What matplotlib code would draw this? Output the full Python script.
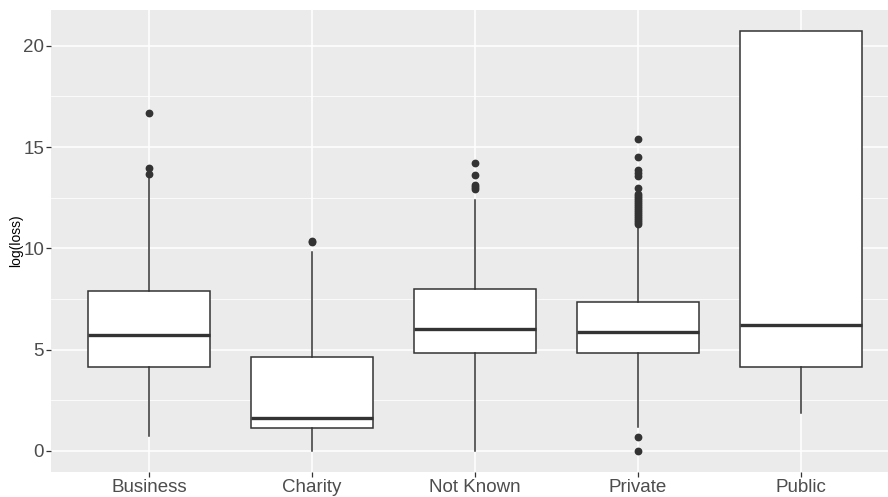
#boxplot of log(loss) per organisation type, drawn from summary statistics
import matplotlib.pyplot as plt
from matplotlib.ticker import MultipleLocator

plt.rcParams['font.family'] = ['Liberation Sans', 'DejaVu Sans']

#summary stats read per category
categories = ['Business', 'Charity', 'Not Known', 'Private', 'Public']
q1 = [4.13, 1.13, 4.82, 4.82, 4.13]
medians = [5.72, 1.62, 6.04, 5.86, 6.23]
q3 = [7.91, 4.62, 8.01, 7.37, 20.74]
whislo = [0.74, 0.02, 0.02, 1.18, 1.87]
whishi = [13.62, 9.80, 12.38, 11.15, 20.74]
fliers = [
    [13.66, 13.95, 16.66],
    [10.30, 10.36],
    [12.91, 13.05, 13.12, 13.61, 14.19],
    [0.0, 0.69, 11.22, 11.3, 11.4, 11.5, 11.6, 11.7, 11.8, 11.9, 12.0, 12.1,
     12.2, 12.3, 12.4, 12.5, 12.6, 12.7, 12.97, 13.56, 13.72, 13.86, 14.51, 15.41],
    [],
]

stats = []
for i, name in enumerate(categories):
    stats.append({'label': name, 'q1': q1[i], 'med': medians[i], 'q3': q3[i],
                  'whislo': whislo[i], 'whishi': whishi[i], 'fliers': fliers[i]})

fig = plt.figure(figsize=(8.88, 4.97), dpi=100)
ax = fig.add_axes([51 / 888, 25 / 497, 848 / 888, 462.5 / 497])
ax.set_facecolor('#EBEBEB')

dark = '#333333'
positions = list(range(1, len(categories) + 1))
ax.bxp(stats, positions=positions, widths=0.75, patch_artist=True, showcaps=False,
       boxprops=dict(facecolor='white', edgecolor=dark, linewidth=1.1),
       medianprops=dict(color=dark, linewidth=2.4),
       whiskerprops=dict(color=dark, linewidth=1.1),
       flierprops=dict(marker='o', markerfacecolor=dark, markeredgecolor=dark,
                       markersize=4.6, linestyle='none'),
       zorder=3)

ax.set_xlim(0.4, 5.6)
ax.set_ylim(-1.04, 21.79)
ax.yaxis.set_major_locator(MultipleLocator(5))
ax.yaxis.set_minor_locator(MultipleLocator(2.5))
ax.set_xticks(positions)
ax.set_xticklabels(categories)

#ggplot-like grid
ax.grid(which='major', color='white', linewidth=1.1, zorder=0)
ax.grid(which='minor', axis='y', color='white', linewidth=0.55, zorder=0)
ax.set_axisbelow(True)
for s in ax.spines.values():
    s.set_visible(False)

ax.tick_params(which='major', length=3.5, width=0.9, color=dark, labelcolor='#4D4D4D',
               labelsize=13.5, pad=1.5)
ax.tick_params(which='minor', length=0)
ax.set_ylabel('log(loss)', fontsize=10, color='black', labelpad=0)

fig.savefig('out.png', dpi=100)
